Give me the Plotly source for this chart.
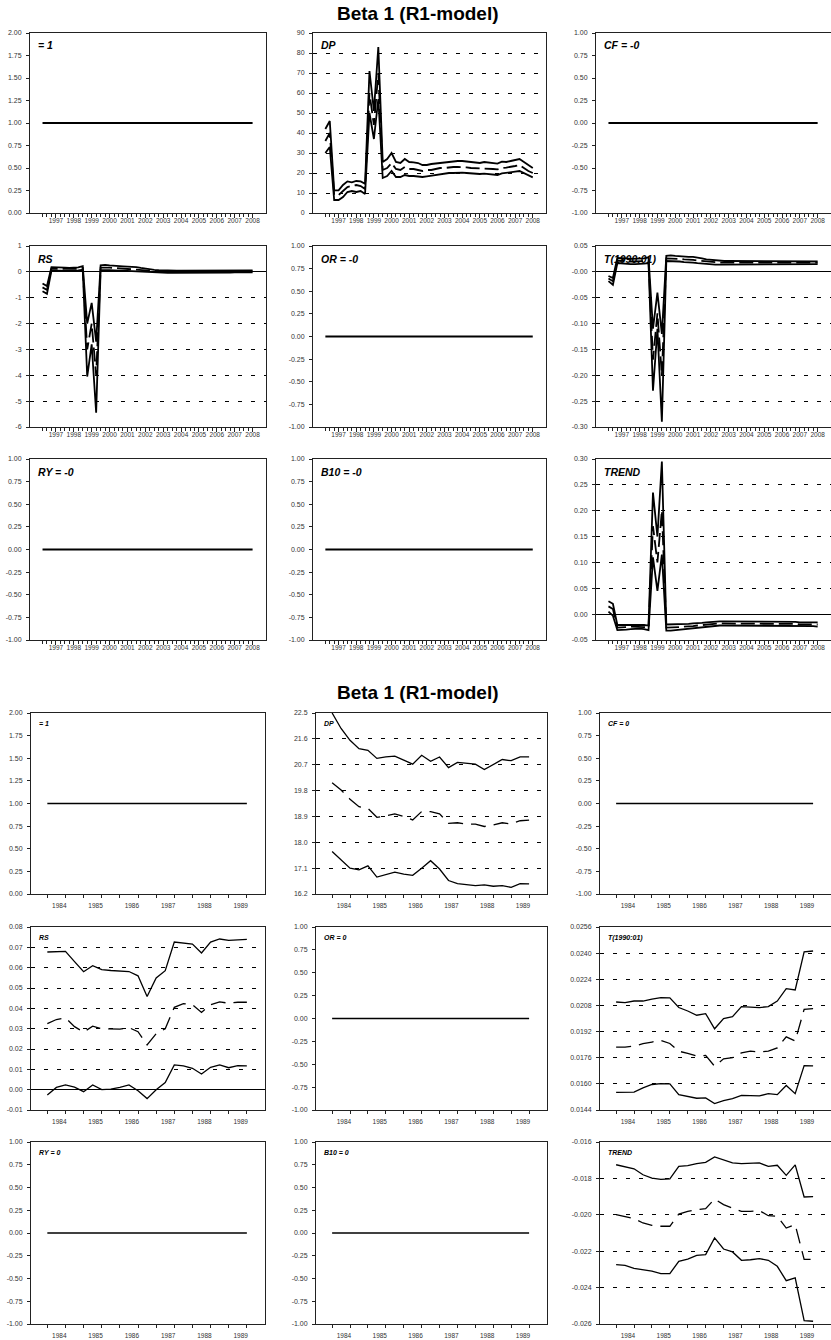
import plotly.graph_objects as go

W, H = 831, 1340

# -----------------------------------------
# Time axes (quarterly recursive estimates)
# -----------------------------------------
top_quarters = [1996.25 + 0.25 * i for i in range(48)]
top_years = [1997, 1998, 1999, 2000, 2001, 2002, 2003, 2004, 2005, 2006, 2007, 2008]
bot_quarters = [1984.0 + 0.25 * i for i in range(23)]
bot_years = [1984, 1985, 1986, 1987, 1988, 1989]
bot_halfyears = [1984.0 + 0.5 * i for i in range(12)]

# -----------------------------------------
# Top block data (beta and +/- 2 s.e.)
# -----------------------------------------
dp_top_up = [42, 46, 11.3, 11.3, 14, 15.8, 15.3, 16, 15.8, 14.6, 71, 51, 83, 25.5, 27, 30,
             25.5, 25, 27, 25.5, 25.3, 25, 24, 24, 24.5, 24.8, 25, 25.3, 25.5, 25.8, 26, 26,
             25.8, 25.5, 25.2, 25, 25.5, 25.3, 25, 24.7, 25.7, 25.5, 26, 26.5, 27, 25.5, 24, 22.5]
dp_top_mid = [36, 40, 9, 9, 11, 13, 13.5, 14, 13.5, 12, 60, 44, 70, 21.5, 22.5, 25,
              22, 21.5, 23, 22, 22, 21.5, 21, 21.5, 21.5, 22, 22.5, 22.5, 22.8, 23, 23, 23,
              22.8, 22.5, 22.4, 22.3, 22.5, 22.3, 22, 21.8, 22.5, 22.7, 23, 23.5, 24, 22.5, 21, 20]
dp_top_low = [30, 33, 6.5, 6.5, 8, 10.5, 11, 10.5, 11, 9.5, 50, 37, 57, 17.5, 18.5, 21,
              18, 18, 19, 18.5, 18.5, 18.2, 18, 18.3, 18.7, 19, 19.5, 19.7, 20, 20, 20.2, 20.2,
              20, 19.8, 19.6, 19.5, 19.7, 19.5, 19.2, 19, 19.8, 20, 20.3, 20.7, 21, 20, 18.8, 17.8]

rs_top_up = [-0.45, -0.55, 0.18, 0.18, 0.17, 0.16, 0.15, 0.15, 0.17, 0.22, -2.0, -1.2, -2.7, 0.25, 0.27, 0.25,
             0.23, 0.22, 0.21, 0.2, 0.2, 0.18, 0.15, 0.12, 0.1, 0.08, 0.07, 0.06, 0.06, 0.05, 0.05, 0.05,
             0.05, 0.05, 0.05, 0.04, 0.04, 0.04, 0.04, 0.04, 0.05, 0.05, 0.05, 0.06, 0.06, 0.06, 0.06, 0.06]
rs_top_mid = [-0.6, -0.7, 0.12, 0.12, 0.11, 0.1, 0.1, 0.1, 0.12, 0.15, -3.0, -2.0, -4.0, 0.16, 0.17, 0.16,
              0.15, 0.14, 0.13, 0.12, 0.11, 0.1, 0.08, 0.06, 0.04, 0.03, 0.02, 0.02, 0.01, 0.01, 0.01, 0.01,
              0.01, 0.01, 0.0, 0.0, 0.0, 0.0, 0.0, 0.0, 0.01, 0.01, 0.01, 0.02, 0.02, 0.02, 0.02, 0.02]
rs_top_low = [-0.75, -0.85, 0.05, 0.06, 0.05, 0.04, 0.04, 0.05, 0.06, 0.08, -4.05, -2.8, -5.45, 0.07, 0.08, 0.07,
              0.06, 0.06, 0.05, 0.04, 0.03, 0.02, 0.0, -0.01, -0.02, -0.03, -0.03, -0.04, -0.04, -0.04, -0.04, -0.04,
              -0.04, -0.04, -0.05, -0.05, -0.05, -0.05, -0.05, -0.04, -0.04, -0.03, -0.03, -0.02, -0.02, -0.02, -0.02, -0.02]

t_top_up = [-0.008, -0.012, 0.027, 0.027, 0.026, 0.025, 0.025, 0.025, 0.026, 0.028, -0.11, -0.04, -0.12, 0.031, 0.032, 0.031,
            0.03, 0.03, 0.029, 0.029, 0.028, 0.026, 0.024, 0.023, 0.022, 0.022, 0.021, 0.021, 0.021, 0.021, 0.021, 0.021,
            0.021, 0.021, 0.021, 0.021, 0.021, 0.021, 0.021, 0.021, 0.021, 0.021, 0.021, 0.021, 0.021, 0.021, 0.021, 0.02]
t_top_mid = [-0.013, -0.018, 0.022, 0.021, 0.02, 0.02, 0.02, 0.02, 0.021, 0.022, -0.17, -0.08, -0.2, 0.026, 0.026, 0.025,
             0.025, 0.024, 0.024, 0.023, 0.022, 0.021, 0.02, 0.019, 0.018, 0.018, 0.018, 0.018, 0.018, 0.018, 0.018, 0.018,
             0.018, 0.018, 0.018, 0.018, 0.018, 0.018, 0.018, 0.018, 0.018, 0.018, 0.018, 0.018, 0.018, 0.018, 0.018, 0.018]
t_top_low = [-0.018, -0.025, 0.017, 0.016, 0.015, 0.015, 0.015, 0.015, 0.016, 0.017, -0.23, -0.11, -0.29, 0.021, 0.021, 0.02,
             0.02, 0.019, 0.019, 0.018, 0.017, 0.016, 0.015, 0.015, 0.014, 0.014, 0.014, 0.014, 0.014, 0.014, 0.014, 0.014,
             0.014, 0.014, 0.014, 0.014, 0.014, 0.014, 0.014, 0.014, 0.014, 0.014, 0.014, 0.014, 0.014, 0.014, 0.015, 0.015]

trend_top_up = [0.025, 0.02, -0.021, -0.021, -0.02, -0.02, -0.02, -0.02, -0.021, -0.022, 0.235, 0.15, 0.295, -0.02, -0.02, -0.02,
                -0.02, -0.019, -0.019, -0.018, -0.018, -0.017, -0.016, -0.015, -0.015, -0.014, -0.014, -0.014, -0.014, -0.014, -0.014, -0.014,
                -0.014, -0.014, -0.014, -0.015, -0.015, -0.015, -0.015, -0.015, -0.015, -0.015, -0.015, -0.016, -0.016, -0.016, -0.016, -0.016]
trend_top_mid = [0.015, 0.01, -0.026, -0.026, -0.025, -0.024, -0.024, -0.024, -0.025, -0.026, 0.17, 0.1, 0.2, -0.026, -0.026, -0.025,
                 -0.025, -0.024, -0.024, -0.023, -0.022, -0.021, -0.02, -0.019, -0.019, -0.018, -0.018, -0.018, -0.018, -0.018, -0.018, -0.018,
                 -0.018, -0.018, -0.018, -0.019, -0.019, -0.019, -0.019, -0.019, -0.019, -0.019, -0.019, -0.02, -0.02, -0.02, -0.02, -0.02]
trend_top_low = [0.005, -0.003, -0.031, -0.031, -0.03, -0.029, -0.028, -0.028, -0.029, -0.031, 0.11, 0.045, 0.115, -0.032, -0.032, -0.031,
                 -0.031, -0.03, -0.029, -0.028, -0.027, -0.026, -0.025, -0.024, -0.023, -0.022, -0.022, -0.022, -0.022, -0.022, -0.022, -0.022,
                 -0.022, -0.022, -0.022, -0.022, -0.022, -0.022, -0.022, -0.022, -0.022, -0.023, -0.023, -0.023, -0.023, -0.023, -0.023, -0.024]

# -----------------------------------------
# Bottom block data
# -----------------------------------------
dp_bot_up = [22.5, 21.96, 21.55, 21.26, 21.2, 20.92, 20.97, 21.0, 20.86, 20.72, 21.03, 20.82,
             20.97, 20.6, 20.78, 20.75, 20.72, 20.53, 20.72, 20.88, 20.84, 20.97, 20.97]
dp_bot_mid = [20.07, 19.82, 19.5, 19.24, 19.18, 18.87, 18.92, 18.99, 18.9, 18.78, 19.07, 19.07,
              18.99, 18.66, 18.68, 18.63, 18.63, 18.55, 18.6, 18.68, 18.64, 18.75, 18.77]
dp_bot_low = [17.68, 17.39, 17.1, 17.04, 17.18, 16.79, 16.87, 16.96, 16.89, 16.85, 17.1, 17.36,
              17.07, 16.67, 16.56, 16.52, 16.49, 16.52, 16.47, 16.49, 16.43, 16.56, 16.55]

rs_bot_up = [0.0677, 0.0677, 0.068, 0.063, 0.058, 0.061, 0.059, 0.0586, 0.0585, 0.0581, 0.056, 0.0458,
             0.0549, 0.0585, 0.0726, 0.0721, 0.0716, 0.0672, 0.0726, 0.0741, 0.0734, 0.0737, 0.0739]
rs_bot_mid = [0.0325, 0.0345, 0.0353, 0.031, 0.0283, 0.0312, 0.030, 0.0298, 0.0298, 0.0305, 0.0285, 0.022,
              0.0275, 0.030, 0.0405, 0.0423, 0.0418, 0.038, 0.0418, 0.0432, 0.0425, 0.043, 0.043]
rs_bot_low = [-0.0026, 0.0011, 0.0023, 0.0012, -0.001, 0.0023, 0.0, 0.0003, 0.0011, 0.0023, -0.0005, -0.0044,
              0.0, 0.0035, 0.0122, 0.0117, 0.0105, 0.0077, 0.011, 0.0122, 0.0108, 0.0118, 0.0117]

t_bot_up = [0.02101, 0.02097, 0.02107, 0.02107, 0.02118, 0.02128, 0.02126, 0.02067, 0.02046, 0.0202, 0.0203, 0.01937,
            0.01999, 0.02011, 0.02073, 0.02069, 0.02067, 0.02073, 0.02107, 0.02183, 0.02175, 0.02408, 0.02413]
t_bot_mid = [0.01825, 0.01825, 0.01831, 0.01846, 0.01856, 0.01866, 0.01847, 0.018, 0.01786, 0.0177, 0.01774, 0.01708,
             0.01753, 0.0176, 0.0179, 0.018, 0.01796, 0.018, 0.0182, 0.01888, 0.01862, 0.02056, 0.0206]
t_bot_low = [0.01548, 0.01548, 0.0155, 0.01575, 0.01596, 0.01602, 0.016, 0.01534, 0.01524, 0.01512, 0.01514, 0.01479,
             0.01497, 0.0151, 0.0153, 0.01528, 0.01526, 0.0154, 0.01534, 0.0159, 0.0154, 0.01712, 0.0171]

trend_bot_up = [-0.01725, -0.01734, -0.01747, -0.0178, -0.01798, -0.01805, -0.01803, -0.01734, -0.0173, -0.01719, -0.01712, -0.01682,
                -0.017, -0.01715, -0.01719, -0.01719, -0.01715, -0.01734, -0.01728, -0.01783, -0.01726, -0.01902, -0.019]
trend_bot_mid = [-0.01999, -0.02008, -0.02021, -0.02045, -0.02058, -0.02063, -0.02063, -0.01996, -0.01981, -0.01972, -0.01966, -0.01913,
                 -0.01944, -0.01963, -0.01981, -0.01981, -0.01977, -0.02005, -0.02008, -0.02073, -0.02054, -0.02245, -0.02245]
trend_bot_low = [-0.02274, -0.02278, -0.02294, -0.02301, -0.0231, -0.02323, -0.02323, -0.02256, -0.02243, -0.02223, -0.02219, -0.02127,
                 -0.02188, -0.02204, -0.0225, -0.02247, -0.02241, -0.0225, -0.02283, -0.02362, -0.02347, -0.02582, -0.02585]

# -----------------------------------------
# Tick labels
# -----------------------------------------
ticks_unit = ["0.00", "0.25", "0.50", "0.75", "1.00", "1.25", "1.50", "1.75", "2.00"]
ticks_zero = ["-1.00", "-0.75", "-0.50", "-0.25", "0.00", "0.25", "0.50", "0.75", "1.00"]
ticks_dp_top = ["0", "10", "20", "30", "40", "50", "60", "70", "80", "90"]
ticks_rs_top = ["-6", "-5", "-4", "-3", "-2", "-1", "0", "1"]
ticks_t_top = ["-0.30", "-0.25", "-0.20", "-0.15", "-0.10", "-0.05", "-0.00", "0.05"]
ticks_trend_top = ["-0.05", "0.00", "0.05", "0.10", "0.15", "0.20", "0.25", "0.30"]
ticks_dp_bot = ["16.2", "17.1", "18.0", "18.9", "19.8", "20.7", "21.6", "22.5"]
ticks_rs_bot = ["-0.01", "0.00", "0.01", "0.02", "0.03", "0.04", "0.05", "0.06", "0.07", "0.08"]
ticks_t_bot = ["0.0144", "0.0160", "0.0176", "0.0192", "0.0208", "0.0224", "0.0240", "0.0256"]
ticks_trend_bot = ["-0.026", "-0.024", "-0.022", "-0.020", "-0.018", "-0.016"]

# value of the restricted coefficients
coef_one = 1.0
coef_zero = 0.0

for s in [dp_top_up, dp_top_mid, dp_top_low, rs_top_up, rs_top_mid, rs_top_low,
          t_top_up, t_top_mid, t_top_low, trend_top_up, trend_top_mid, trend_top_low]:
    assert len(s) == len(top_quarters), len(s)
for s in [dp_bot_up, dp_bot_mid, dp_bot_low, rs_bot_up, rs_bot_mid, rs_bot_low,
          t_bot_up, t_bot_mid, t_bot_low, trend_bot_up, trend_bot_mid, trend_bot_low]:
    assert len(s) == len(bot_quarters), len(s)

# -----------------------------------------
# Panel definitions
# -----------------------------------------
top_panels = [
    ("= 1", ticks_unit, coef_one, False),
    ("DP", ticks_dp_top, (dp_top_up, dp_top_mid, dp_top_low), True),
    ("CF = -0", ticks_zero, coef_zero, False),
    ("RS", ticks_rs_top, (rs_top_up, rs_top_mid, rs_top_low), True),
    ("OR = -0", ticks_zero, coef_zero, False),
    ("T(1990:01)", ticks_t_top, (t_top_up, t_top_mid, t_top_low), True),
    ("RY = -0", ticks_zero, coef_zero, False),
    ("B10 = -0", ticks_zero, coef_zero, False),
    ("TREND", ticks_trend_top, (trend_top_up, trend_top_mid, trend_top_low), True),
]
bot_panels = [
    ("= 1", ticks_unit, coef_one, False),
    ("DP", ticks_dp_bot, (dp_bot_up, dp_bot_mid, dp_bot_low), True),
    ("CF = 0", ticks_zero, coef_zero, False),
    ("RS", ticks_rs_bot, (rs_bot_up, rs_bot_mid, rs_bot_low), True),
    ("OR = 0", ticks_zero, coef_zero, False),
    ("T(1990:01)", ticks_t_bot, (t_bot_up, t_bot_mid, t_bot_low), True),
    ("RY = 0", ticks_zero, coef_zero, False),
    ("B10 = 0", ticks_zero, coef_zero, False),
    ("TREND", ticks_trend_bot, (trend_bot_up, trend_bot_mid, trend_bot_low), True),
]

# pixel boxes of the panels
top_rows = [(33, 213), (246, 427), (459, 640)]
bot_rows = [(713, 894), (927, 1110), (1142, 1324)]
top_cols = [(30, 266), (313, 546), (596, 831)]
bot_cols = [(31, 265), (316, 547), (600, 831)]

FONT = "Liberation Sans"
INK = "#222"

fig = go.Figure()
layout = {}
annotations = []


def add_block(panels, rows, cols, quarters, x_range, xticks, minor_vals, label_size, lw, dash, start_k):
    for n, (label, yticks, series, grid) in enumerate(panels):
        k = start_k + n
        r, c = divmod(n, 3)
        top, bottom = rows[r]
        left, right = cols[c]
        xname = "xaxis" if k == 1 else f"xaxis{k}"
        yname = "yaxis" if k == 1 else f"yaxis{k}"
        xref = "x" if k == 1 else f"x{k}"
        yref = "y" if k == 1 else f"y{k}"

        if grid:
            for s, d in zip(series, ["solid", dash, "solid"]):
                fig.add_trace(go.Scatter(x=quarters, y=s, mode="lines", xaxis=xref, yaxis=yref,
                                         line=dict(color="black", width=lw, dash=d),
                                         showlegend=False, hoverinfo="skip"))
        else:
            fig.add_trace(go.Scatter(x=quarters, y=[series] * len(quarters), mode="lines",
                                     xaxis=xref, yaxis=yref,
                                     line=dict(color="black", width=lw),
                                     showlegend=False, hoverinfo="skip"))

        yvals = [float(t) for t in yticks]
        layout[xname] = dict(
            domain=[left / W, right / W], anchor=yref, range=x_range,
            tickmode="array", tickvals=xticks[0], ticktext=xticks[1], tickangle=0,
            ticks="outside", ticklen=xticks[2], tickcolor=INK, ticklabelstandoff=xticks[3],
            minor=dict(tickmode="array", tickvals=minor_vals, ticks="outside", ticklen=3, tickcolor=INK),
            tickfont=dict(family=FONT, size=6.5, color="#333"),
            showline=True, mirror=True, linecolor=INK, linewidth=1,
            showgrid=False, zeroline=False, fixedrange=True,
        )
        layout[yname] = dict(
            domain=[1 - bottom / H, 1 - top / H], anchor=xref,
            range=[yvals[0], yvals[-1]],
            tickmode="array", tickvals=yvals, ticktext=yticks,
            ticks="outside", ticklen=3, tickcolor=INK, ticklabelstandoff=3,
            tickfont=dict(family=FONT, size=7, color="#333"),
            showline=True, mirror=True, linecolor=INK, linewidth=1,
            showgrid=grid, gridcolor="black", gridwidth=1, griddash="4px,9px",
            zeroline=grid and yvals[0] < 0 < yvals[-1], zerolinecolor="black", zerolinewidth=1,
            fixedrange=True,
        )
        annotations.append(dict(
            text=f"<b><i>{label}</i></b>", xref=f"{xref} domain", yref=f"{yref} domain",
            x=0.025, y=0.975, xanchor="left", yanchor="top", showarrow=False,
            font=dict(family=FONT, size=label_size, color="black"),
        ))


add_block(top_panels, top_rows, top_cols, top_quarters, [1995.55, 2008.75],
          (top_years, [str(y) for y in top_years], 4, -3), top_quarters, 10.5, 1.8, "14px,5px", 1)
add_block(bot_panels, bot_rows, bot_cols, bot_quarters, [1983.55, 1990.0],
          ([y + 0.33 for y in bot_years], [str(y) for y in bot_years], 0, 5), bot_halfyears, 7, 1.3, "15px,8px", 10)

for ty in (13, 692):
    annotations.append(dict(
        text="<b>Beta 1 (R1-model)</b>", xref="paper", yref="paper",
        x=418 / W, y=1 - ty / H, xanchor="center", yanchor="middle", showarrow=False,
        font=dict(family=FONT, size=19, color="black"),
    ))

fig.update_layout(
    width=W, height=H,
    margin=dict(l=0, r=0, t=0, b=0, autoexpand=False),
    paper_bgcolor="white", plot_bgcolor="white",
    annotations=annotations,
    showlegend=False,
    **layout,
)

# drop the browser's default 8px page margin so the figure fills the window
fig.write_html("out.html", config={"displayModeBar": False},
               post_script="document.body.style.margin = '0';")
